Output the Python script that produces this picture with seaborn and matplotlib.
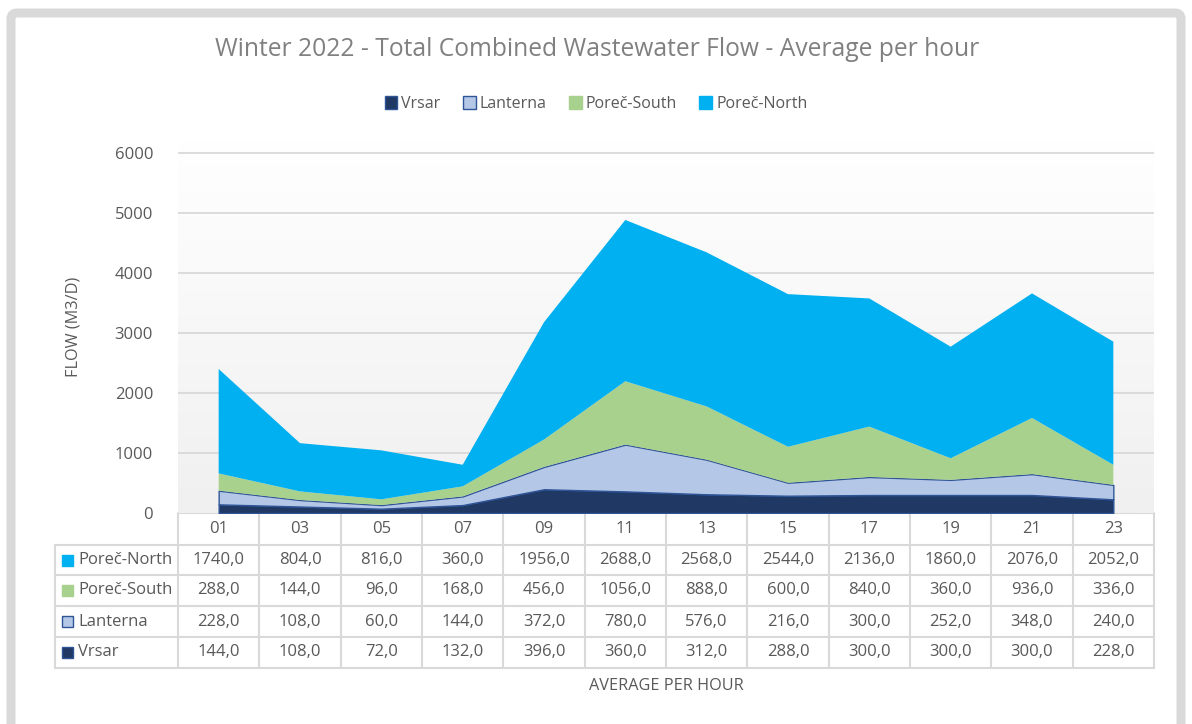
import numpy as np
import pandas as pd
import matplotlib
matplotlib.use("Agg")
import matplotlib.pyplot as plt
import matplotlib.transforms as mtrans
from matplotlib.patches import Patch, FancyBboxPatch, Rectangle
import seaborn as sns

hours = ["01", "03", "05", "07", "09", "11", "13", "15", "17", "19", "21", "23"]
vrsar = [144, 108, 72, 132, 396, 360, 312, 288, 300, 300, 300, 228]
lanterna = [228, 108, 60, 144, 372, 780, 576, 216, 300, 252, 348, 240]
porec_south = [288, 144, 96, 168, 456, 1056, 888, 600, 840, 360, 936, 336]
porec_north = [1740, 804, 816, 360, 1956, 2688, 2568, 2544, 2136, 1860, 2076, 2052]

series = ["Vrsar", "Lanterna", "Poreč-South", "Poreč-North"]
df = pd.DataFrame({"hour": hours, "Vrsar": vrsar, "Lanterna": lanterna,
                   "Poreč-South": porec_south, "Poreč-North": porec_north})

colors = {"Vrsar": "#1f3864", "Lanterna": "#b4c7e7",
          "Poreč-South": "#a9d18e", "Poreč-North": "#00b0f0"}
edges = {"Vrsar": "#2f5597", "Lanterna": "#2f5597",
         "Poreč-South": "none", "Poreč-North": "none"}

sns.set_theme(style="white")
plt.rcParams["font.family"] = ["Open Sans", "DejaVu Sans"]
txt = "#595959"

W, H = 1192, 724
fig = plt.figure(figsize=(W / 100, H / 100), dpi=100)

# overlay axes in pixel coords for frame + table
ov = fig.add_axes([0, 0, 1, 1], zorder=0)
ov.set_xlim(0, W)
ov.set_ylim(H, 0)
ov.axis("off")
ov.add_patch(FancyBboxPatch((11, 13), W - 22, H, boxstyle="round,pad=0,rounding_size=6",
                            fc="white", ec="#d9d9d9", lw=6.5))

# main plot area
left, right, bottom, top = 178, 1154, 513, 141
ax = fig.add_axes([left / W, 1 - bottom / H, (right - left) / W, (bottom - top) / H], zorder=2)
ax.set_facecolor("none")
x = np.arange(len(hours))
ax.set_xlim(-0.5, len(hours) - 0.5)
ax.set_ylim(0, 6200)

# gradient background
grad = np.linspace(1, 0, 256).reshape(-1, 1)
ax.imshow(grad, extent=(-0.5, len(hours) - 0.5, 0, 6200), aspect="auto",
          cmap=matplotlib.colors.LinearSegmentedColormap.from_list("g", ["#f0f0f0", "#ffffff"]),
          zorder=0)
ax.set_yticks(range(0, 6001, 1000))
for yv in range(1000, 6001, 1000):
    ax.axhline(yv, color="#d9d9d9", lw=1.3, zorder=1)

polys = ax.stackplot(x, *[df[s] for s in series],
                     colors=[colors[s] for s in series], zorder=2)
for p, s in zip(polys, series):
    p.set_edgecolor(edges[s])
    p.set_linewidth(1.0 if edges[s] != "none" else 0)

ax.set_xticks([])
ax.tick_params(axis="y", length=0, labelsize=12, labelcolor=txt, pad=18)
for sp in ax.spines.values():
    sp.set_visible(False)
ax.set_ylabel("FLOW (M3/D)", fontsize=11.7, color=txt, labelpad=24)

# data table below the plot, x follows the plot's category scale
tr = mtrans.blended_transform_factory(ax.transData, ov.transData)
row_y = [513, 545, 575, 606, 637, 668]
lab_left = 55
grid_c = "#d9d9d9"
bounds = np.arange(len(hours) + 1) - 0.5
ov.plot([bounds[0], bounds[-1]], [row_y[0]] * 2, transform=tr, color=grid_c, lw=1.5, zorder=3)
for yy in row_y[1:]:
    ov.plot([lab_left, right], [yy, yy], color=grid_c, lw=1.5, zorder=3)
for b in bounds:
    ov.plot([b, b], [row_y[0], row_y[-1]], transform=tr, color=grid_c, lw=1.5, zorder=3)
ov.plot([lab_left, lab_left], [row_y[1], row_y[-1]], color=grid_c, lw=1.5, zorder=3)

for i, h in enumerate(hours):
    ov.text(i, (row_y[0] + row_y[1]) / 2, h, transform=tr, ha="center", va="center",
            fontsize=12, color=txt)

for r, s in enumerate(series[::-1]):
    yc = (row_y[r + 1] + row_y[r + 2]) / 2
    ov.add_patch(Rectangle((62, yc - 5.5), 11, 11, fc=colors[s],
                           ec=edges[s] if edges[s] != "none" else colors[s], lw=1, zorder=4))
    ov.text(78, yc, s, ha="left", va="center", fontsize=12, color=txt)
    for i, v in enumerate(df[s]):
        ov.text(i, yc, f"{v:.1f}".replace(".", ","), transform=tr, ha="center",
                va="center", fontsize=12, color=txt)

ov.text((left + right) / 2, 686, "AVERAGE PER HOUR", ha="center", va="center",
        fontsize=11.7, color=txt)
ov.text(W / 2 + 1, 50, "Winter 2022 - Total Combined Wastewater Flow - Average per hour",
        ha="center", va="center", fontsize=17.7, color="#808080")

handles = [Patch(fc=colors[s], ec=edges[s] if edges[s] != "none" else colors[s], label=s)
           for s in series]
fig.legend(handles=handles, loc="center", bbox_to_anchor=(0.5, 1 - 104 / H), ncol=4,
           frameon=False, fontsize=11.5, handlelength=0.8, handleheight=0.8,
           handletextpad=0.25, columnspacing=1.4, labelcolor=txt)

fig.savefig("out.png", dpi=100)
